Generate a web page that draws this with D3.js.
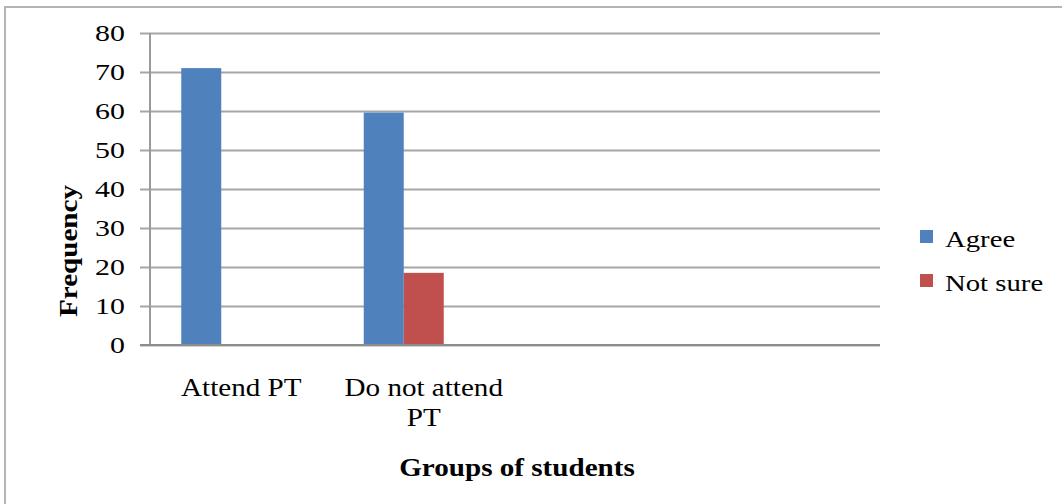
<!DOCTYPE html>
<html>
<head>
<meta charset="utf-8">
<script src="https://cdn.jsdelivr.net/npm/d3@7"></script>
<style>
  html, body { margin: 0; padding: 0; background: #fff; }
  svg { display: block; font-family: "Liberation Serif", "Times New Roman", serif; }
</style>
</head>
<body>
<svg id="chart" width="1062" height="504"></svg>
<script>
// Responses per group of students
const categories = ["Attend PT", "Do not attend PT", "", " "];
const seriesNames = ["Agree", "Not sure", "Disagree"];
const agree = [71, 59.6, 0, 0];
const notSure = [0, 18.5, 0, 0];
const disagree = [0, 0, 0, 0];
const yTicks = [0, 10, 20, 30, 40, 50, 60, 70, 80];
const colors = ["#4f81bd", "#c0504d", "#9bbb59"];

const seriesValues = [agree, notSure, disagree];

const svg = d3.select("#chart");
const W = 1062, H = 504;

// plot frame
const plot = { left: 150, right: 880, top: 33, bottom: 345 };

// outer chart border
svg.append("rect")
  .attr("x", 5).attr("y", 7)
  .attr("width", W + 10).attr("height", H + 10)
  .attr("fill", "none")
  .attr("stroke", "#b4b4b4")
  .attr("stroke-width", 2);

const x0 = d3.scaleBand()
  .domain(d3.range(categories.length))
  .range([plot.left, plot.right])
  .paddingInner(0.3425)
  .paddingOuter(0.17125);

const x1 = d3.scaleBand()
  .domain(d3.range(seriesNames.length))
  .range([0, x0.bandwidth()]);

const y = d3.scaleLinear().domain([0, 80]).range([plot.bottom, plot.top]);

// horizontal gridlines with value labels
const yAxis = svg.append("g")
  .attr("transform", `translate(${plot.right},0)`)
  .call(d3.axisLeft(y).tickValues(yTicks).tickSize(plot.right - plot.left + 10).tickPadding(0));
yAxis.select(".domain").remove();
yAxis.selectAll(".tick line")
  .attr("stroke", "#a6a6a6")
  .attr("stroke-width", 2);
yAxis.selectAll(".tick text")
  .attr("x", 0)
  .attr("dy", "0.34em")
  .attr("transform", `translate(${-(plot.right - 125)},0) scale(1.3,1)`)
  .attr("font-size", 23)
  .attr("fill", "#000")
  .attr("font-family", "Liberation Serif, Times New Roman, serif");

// vertical value axis line
svg.append("line")
  .attr("x1", plot.left).attr("x2", plot.left)
  .attr("y1", y(80)).attr("y2", y(0))
  .attr("stroke", "#9a9a9a")
  .attr("stroke-width", 2);

// bars
const groups = svg.append("g").selectAll("g")
  .data(categories.map((c, i) => i))
  .join("g")
  .attr("transform", i => `translate(${x0(i)},0)`);

groups.selectAll("rect")
  .data(i => seriesValues.map((vals, s) => ({ s, v: vals[i] })))
  .join("rect")
  .filter(d => d.v > 0)
  .attr("x", d => x1(d.s))
  .attr("width", x1.bandwidth())
  .attr("y", d => y(d.v))
  .attr("height", d => y(0) - y(d.v))
  .attr("fill", d => colors[d.s]);

// category axis line
svg.append("line")
  .attr("x1", plot.left - 10).attr("x2", plot.right)
  .attr("y1", y(0)).attr("y2", y(0))
  .attr("stroke", "#8c8c8c")
  .attr("stroke-width", 2);

// category labels (wrapped to the band width)
const xAxis = svg.append("g")
  .attr("transform", `translate(0,${plot.bottom})`)
  .call(d3.axisBottom(x0).tickSize(0).tickFormat(i => categories[i]));
xAxis.select(".domain").remove();

const catScale = 1.12, catSize = 26;
xAxis.selectAll(".tick text").each(function (i) {
  const t = d3.select(this);
  const words = categories[i].trim().split(/\s+/).filter(w => w);
  t.text(null)
    .attr("y", 0).attr("dy", null)
    .attr("font-size", catSize)
    .attr("fill", "#000")
    .attr("font-family", "Liberation Serif, Times New Roman, serif")
    .attr("transform", `translate(0,51) scale(${catScale},1)`);
  const maxW = x0.step() / catScale - 10;
  let lines = [], line = [];
  const probe = t.append("tspan");
  words.forEach(w => {
    probe.text([...line, w].join(" "));
    if (line.length && probe.node().getComputedTextLength() > maxW) {
      lines.push(line.join(" "));
      line = [w];
    } else {
      line.push(w);
    }
  });
  if (line.length) lines.push(line.join(" "));
  probe.remove();
  lines.forEach((l, k) => {
    t.append("tspan").attr("x", 0).attr("y", k * 30).text(l);
  });
});

// axis titles
svg.append("text")
  .attr("transform", `translate(${(plot.left + plot.right) / 2 + 2},476) scale(1.12,1)`)
  .attr("text-anchor", "middle")
  .attr("font-size", 26)
  .attr("font-weight", "bold")
  .text("Groups of students");

svg.append("text")
  .attr("transform", `translate(77,251) rotate(-90) scale(1.12,1)`)
  .attr("text-anchor", "middle")
  .attr("font-size", 26)
  .attr("font-weight", "bold")
  .text("Frequency");

// legend: series that have any value
const legendItems = seriesNames
  .map((name, s) => ({ name, s, total: d3.sum(seriesValues[s]) }))
  .filter(d => d.total > 0);

const legend = svg.append("g").attr("transform", "translate(920,230)");
const li = legend.selectAll("g")
  .data(legendItems)
  .join("g")
  .attr("transform", (d, k) => `translate(0,${k * 44})`);
li.append("rect")
  .attr("width", 13).attr("height", 13)
  .attr("fill", d => colors[d.s]);
li.append("text")
  .attr("transform", "translate(25,17) scale(1.25,1)")
  .attr("font-size", 23)
  .attr("fill", "#000")
  .text(d => d.name);
</script>
</body>
</html>
